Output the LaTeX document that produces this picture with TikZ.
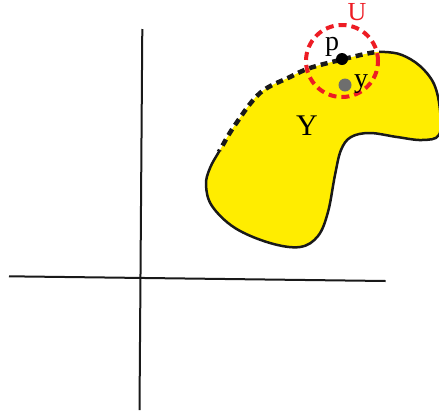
\documentclass[tikz,border=0pt]{standalone}
\usepackage{fontspec}
\setmainfont{Liberation Serif}
\definecolor{blobyellow}{RGB}{255,237,0}
\definecolor{ured}{RGB}{237,28,36}
\definecolor{dotgray}{RGB}{110,110,110}
\tikzset{
  axis/.style={line width=2pt, black!90},
  solidedge/.style={line width=2.5pt, black!90},
  dashedge/.style={line width=4.5pt, black!90, dash pattern=on 7pt off 5pt},
  uring/.style={draw, line width=4pt, ured, dash pattern=on 8pt off 5pt},
  ptdot/.style={circle, inner sep=0pt, minimum size=12pt},
  lbl/.style={inner sep=0pt, anchor=base},
}
\begin{document}
\begin{tikzpicture}[x=1pt,y=-1pt]
\useasboundingbox (0,0) rectangle (439,413);
% axes
\coordinate (vt) at (142.3,29);
\coordinate (vb) at (139.5,410);
\coordinate (hl) at (9,276.3);
\coordinate (hr) at (385.7,281);
\draw[axis] (vt) -- (vb);
\draw[axis] (hl) -- (hr);
% blob
\path[save path=\blobpath] plot[smooth cycle, tension=0.6] coordinates {
 (220,150) (235,125) (260,93) (290,77) (310,68) (340,60) (370,53) (385,52)
 (402,55) (420,66) (434,84) (440,110) (439,135) (422,140) (397,137) (370,133)
 (351,137) (341,150) (335,175) (328,212) (318,236) (300,247) (270,243)
 (235,228) (212,206) (206,185) (210,168)};
\fill[blobyellow, use path=\blobpath];
\begin{scope}
\clip (150,0) -- (379,0) -- (379,100) -- (230,151) -- (150,151) -- cycle;
\draw[dashedge, use path=\blobpath];
\end{scope}
\begin{scope}[even odd rule]
\clip (-10,-10) rectangle (460,430)
  (150,0) -- (379,0) -- (379,100) -- (230,151) -- (150,151) -- cycle;
\draw[solidedge, use path=\blobpath];
\end{scope}
% neighbourhood U
\node[uring, circle, minimum size=72pt, inner sep=0pt] (ring) at (342,61) {};
% points
\node[ptdot, fill=black] (p) at (342,59) {};
\node[ptdot, fill=dotgray, minimum size=13pt] (y) at (345,85) {};
% labels
\node[lbl, font=\fontsize{30}{34}\selectfont] (Ylab) at (307,135) {Y};
\node[lbl, font=\fontsize{26}{30}\selectfont, text=ured] (Ulab) at (357,20) {U};
\node[lbl, font=\fontsize{28}{32}\selectfont] (plab) at (332,50) {p};
\node[lbl, font=\fontsize{28}{32}\selectfont] (ylab) at (361,87) {y};
\end{tikzpicture}
\end{document}
